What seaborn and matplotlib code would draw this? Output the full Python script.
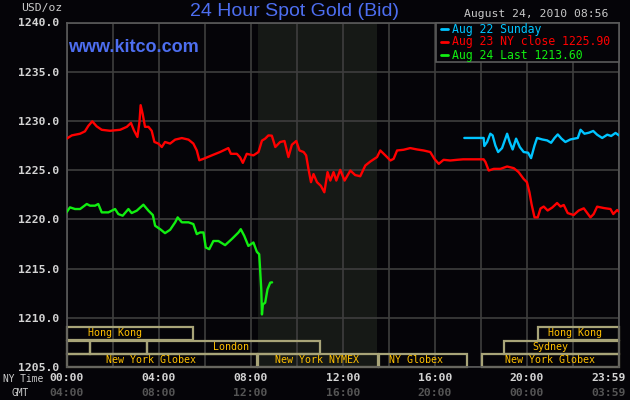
import numpy as np
import pandas as pd
import seaborn as sns
import matplotlib
matplotlib.use("Agg")
import matplotlib.pyplot as plt
from matplotlib.patches import Rectangle
from matplotlib.lines import Line2D
from matplotlib.transforms import blended_transform_factory

# ---- data (hours in NY time, price in USD/oz) ----
aug22_hours = [17.28, 18.12, 18.15, 18.27, 18.41, 18.51, 18.63, 18.75, 18.92, 19.14, 19.25, 19.38,
               19.53, 19.69, 19.86, 20.05, 20.18, 20.33, 20.44, 20.66, 20.88, 21.05, 21.2, 21.34,
               21.5, 21.67, 21.89, 22.21, 22.33, 22.5, 22.69, 22.88, 23.05, 23.27, 23.49, 23.66,
               23.85, 24.0]
aug22_price = [1228.27, 1228.27, 1227.45, 1227.86, 1228.7, 1228.53, 1227.5, 1226.84, 1227.24, 1228.7,
               1227.86, 1227.1, 1228.2, 1227.35, 1226.84, 1226.77, 1226.22, 1227.5, 1228.27, 1228.12,
               1228.02, 1227.78, 1228.27, 1228.63, 1228.2, 1227.86, 1228.12, 1228.27, 1229.1, 1228.7,
               1228.8, 1228.98, 1228.6, 1228.27, 1228.6, 1228.47, 1228.78, 1228.53]

aug23_hours = [0.0, 0.23, 0.59, 0.8, 0.95, 1.12, 1.31, 1.53, 1.89, 2.33, 2.62, 2.8, 2.93, 3.08, 3.17,
               3.22, 3.31, 3.41, 3.56, 3.7, 3.82, 3.99, 4.14, 4.28, 4.5, 4.72, 5.01, 5.3, 5.51, 5.66,
               5.77, 5.95, 6.31, 6.67, 7.03, 7.14, 7.4, 7.54, 7.66, 7.83, 8.12, 8.34, 8.49, 8.63,
               8.77, 8.92, 9.07, 9.28, 9.47, 9.64, 9.79, 9.98, 10.12, 10.3, 10.41, 10.51, 10.62,
               10.73, 10.88, 11.05, 11.2, 11.34, 11.46, 11.6, 11.72, 11.89, 12.08, 12.33, 12.54,
               12.76, 12.98, 13.2, 13.49, 13.63, 13.85, 14.07, 14.21, 14.36, 14.64, 14.93, 15.23,
               15.51, 15.8, 15.98, 16.17, 16.38, 16.67, 16.97, 17.23, 18.12, 18.2, 18.34, 18.56,
               18.85, 19.14, 19.43, 19.64, 19.86, 20.0, 20.11, 20.2, 20.33, 20.47, 20.59, 20.73,
               20.9, 21.1, 21.31, 21.46, 21.6, 21.77, 22.03, 22.25, 22.47, 22.76, 22.9, 23.05,
               23.34, 23.63, 23.75, 23.92, 24.0]
aug23_price = [1228.19, 1228.53, 1228.7, 1228.94, 1229.5, 1229.96, 1229.45, 1229.1, 1229.0, 1229.1,
               1229.4, 1229.8, 1229.04, 1228.37, 1229.9, 1231.6, 1230.7, 1229.4, 1229.4, 1229.0,
               1227.86, 1227.7, 1227.35, 1227.86, 1227.7, 1228.1, 1228.26, 1228.1, 1227.7, 1227.0,
               1226.0, 1226.15, 1226.5, 1226.84, 1227.24, 1226.66, 1226.66, 1226.3, 1225.74, 1226.66,
               1226.5, 1226.84, 1228.0, 1228.2, 1228.53, 1228.5, 1227.35, 1227.86, 1227.96, 1226.33,
               1227.58, 1227.96, 1227.0, 1226.84, 1226.5, 1225.13, 1223.78, 1224.6, 1223.78, 1223.4,
               1222.75, 1224.8, 1223.94, 1224.8, 1223.94, 1225.03, 1223.94, 1224.96, 1224.5, 1224.38,
               1225.47, 1225.88, 1226.33, 1227.0, 1226.5, 1225.98, 1226.15, 1227.0, 1227.07, 1227.24,
               1227.1, 1227.0, 1226.84, 1226.15, 1225.64, 1226.05, 1225.98, 1226.05, 1226.1, 1226.1,
               1225.82, 1224.96, 1225.13, 1225.13, 1225.37, 1225.2, 1224.8, 1224.1, 1223.78, 1222.75,
               1221.56, 1220.2, 1220.2, 1221.1, 1221.3, 1220.9, 1221.2, 1221.66, 1221.3, 1221.46,
               1220.64, 1220.44, 1220.9, 1221.12, 1220.2, 1220.54, 1221.29, 1221.15, 1221.05, 1220.54,
               1220.95, 1220.77]

aug24_hours = [0.0, 0.15, 0.37, 0.59, 0.88, 1.02, 1.24, 1.38, 1.53, 1.82, 2.11, 2.25, 2.44, 2.69,
               2.83, 3.05, 3.34, 3.56, 3.75, 3.85, 4.07, 4.28, 4.5, 4.72, 4.83, 5.01, 5.3, 5.51,
               5.66, 5.8, 5.95, 6.05, 6.2, 6.38, 6.6, 6.89, 7.18, 7.47, 7.57, 7.72, 7.9, 8.12, 8.27,
               8.37, 8.41, 8.46, 8.49, 8.53, 8.63, 8.73, 8.85, 8.93]
aug24_price = [1220.71, 1221.22, 1221.05, 1221.05, 1221.56, 1221.39, 1221.39, 1221.56, 1220.71,
               1220.71, 1221.05, 1220.54, 1220.37, 1221.05, 1220.64, 1220.88, 1221.49, 1220.88,
               1220.44, 1219.35, 1219.0, 1218.6, 1218.94, 1219.7, 1220.2, 1219.7, 1219.7, 1219.52,
               1218.5, 1218.67, 1218.67, 1217.14, 1216.97, 1217.8, 1217.8, 1217.38, 1218.0, 1218.67,
               1219.0, 1218.33, 1217.3, 1217.65, 1216.7, 1216.46, 1214.93, 1212.89, 1210.34, 1211.36,
               1211.53, 1212.89, 1213.57, 1213.6]

series_names = ["Aug 22 Sunday", "Aug 23 NY close 1225.90", "Aug 24 Last 1213.60"]
series_colors = ["#00c4ff", "#ff0000", "#11ee11"]

ny_labels = ["00:00", "04:00", "08:00", "12:00", "16:00", "20:00", "23:59"]
gmt_labels = ["04:00", "08:00", "12:00", "16:00", "20:00", "00:00", "03:59"]
label_hours = [0, 4, 8, 12, 16, 20, 23.55]

# market sessions: (row, start, end, label, label_x)
sessions = [
    (0, 0.0, 5.5, "Hong Kong", 2.1),
    (0, 20.5, 24.0, "Hong Kong", 22.07),
    (1, 0.0, 1.0, "", 0),
    (1, 1.0, 3.5, "", 0),
    (1, 3.5, 11.0, "London", 7.16),
    (1, 19.0, 24.0, "Sydney", 21.0),
    (2, 0.0, 8.27, "New York Globex", 3.65),
    (2, 8.34, 13.53, "New York NYMEX", 10.9),
    (2, 13.56, 17.4, "NY Globex", 15.2),
    (2, 18.05, 24.0, "New York Globex", 21.0),
]
row_bounds = [(1207.74, 1209.07), (1206.33, 1207.64), (1205.0, 1206.33)]

df = pd.concat([
    pd.DataFrame({"hour": h, "price": p, "series": n})
    for h, p, n in zip([aug22_hours, aug23_hours, aug24_hours],
                       [aug22_price, aug23_price, aug24_price], series_names)
])

bg = "#050408"
sns.set_theme(style="dark", rc={"axes.facecolor": bg, "figure.facecolor": bg,
                                "grid.color": "#3e3e3e", "axes.edgecolor": "#5a5a5a"})
mono = "DejaVu Sans Mono"

fig = plt.figure(figsize=(6.3, 4), dpi=100)
W, H = 630.0, 400.0
ax = fig.add_axes([66.5 / W, 1 - 367 / H, (619 - 66.5) / W, (367 - 22.5) / H])

ax.axvspan(8.333, 13.5, color="#161916", zorder=0.1, lw=0)

sns.lineplot(data=df, x="hour", y="price", hue="series", palette=series_colors,
             hue_order=series_names, estimator=None, sort=False, legend=False,
             linewidth=1.7, ax=ax, zorder=3)

ax.set_xlim(0, 24)
ax.set_ylim(1205, 1240)
ax.set_xticks(np.arange(0, 25, 2))
ax.set_xticklabels([])
ax.set_yticks(np.arange(1205, 1241, 5))
ax.set_yticklabels([f"{v:.1f}" for v in np.arange(1205, 1241, 5)],
                   fontfamily=mono, fontweight="bold", fontsize=8.2, color="#d4d4d4")
ax.tick_params(length=0, pad=5)
ax.grid(True, lw=1.2)
ax.set_axisbelow(True)
ax.set_xlabel("")
ax.set_ylabel("")
for s in ax.spines.values():
    s.set_color("#5a5a5a")
    s.set_linewidth(1.2)

# session boxes
for row, x0, x1, lab, lx in sessions:
    y0, y1 = row_bounds[row]
    ax.add_patch(Rectangle((x0, y0), x1 - x0, y1 - y0, fill=False,
                           edgecolor="#a8a478", lw=1.6, zorder=2, clip_on=False))
    if lab:
        ax.text(lx, (y0 + y1) / 2, lab, ha="center", va="center", fontsize=7.2,
                fontfamily=mono, color="#ffc000", zorder=4)

# x labels (two rows)
tr = blended_transform_factory(ax.transData, fig.transFigure)
for hx, ny, gm in zip(label_hours, ny_labels, gmt_labels):
    fig.text(hx, 1 - 378 / H, ny, transform=tr, ha="center", va="center",
             fontfamily=mono, fontweight="bold", fontsize=8.2, color="#d4d4d4")
    fig.text(hx, 1 - 393 / H, gm, transform=tr, ha="center", va="center",
             fontfamily=mono, fontweight="bold", fontsize=8.2, color="#555555")
fig.text(3 / W, 1 - 379 / H, "NY Time", ha="left", va="center", fontfamily=mono,
         fontsize=6.9, color="#cccccc")
fig.text(11.5 / W, 1 - 393 / H, "GMT", ha="left", va="center", fontfamily=mono,
         fontsize=6.9, color="#cccccc")

# header texts
fig.text(62 / W, 1 - 8 / H, "USD/oz", ha="right", va="center", fontfamily=mono,
         fontsize=8.2, color="#cccccc")
fig.text(295 / W, 1 - 12 / H, "24 Hour Spot Gold (Bid)", ha="center", va="center",
         fontfamily="Liberation Sans", fontsize=14, color="#4d6ef0")
fig.text(608 / W, 1 - 14 / H, "August 24, 2010 08:56", ha="right", va="center",
         fontfamily=mono, fontsize=8.2, color="#c8c8c8")
fig.text(68 / W, 1 - 48 / H, "www.kitco.com", ha="left", va="center",
         fontfamily="Liberation Sans", fontweight="bold", fontsize=13, color="#4d6ef0",
         zorder=6)

# legend box
fig.add_artist(Rectangle((436 / W, 1 - 62 / H), (619 - 436) / W, (62 - 22.5) / H,
                         transform=fig.transFigure, facecolor=bg, edgecolor="#5a5a5a",
                         lw=1.2, zorder=5))
for i, (name, col) in enumerate(zip(series_names, series_colors)):
    yy = 1 - (29 + 13 * i) / H
    fig.add_artist(Line2D([441.5 / W, 448 / W], [yy, yy], color=col, lw=2, zorder=6))
    fig.text(451.5 / W, yy, name, ha="left", va="center", fontfamily=mono,
             fontsize=8.3, color=col, zorder=6)

fig.savefig("out.png", dpi=100, facecolor=bg)
